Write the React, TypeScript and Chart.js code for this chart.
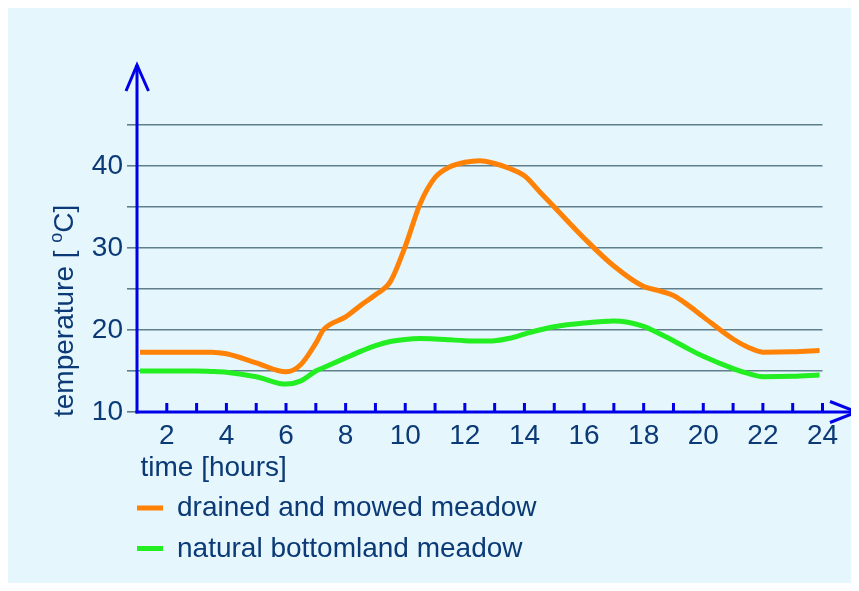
import React, { useEffect, useRef } from 'react';
import { Chart, registerables } from 'chart.js';

Chart.register(...registerables);

// ---- data ----
const hours = [1.1, 2, 3, 3.5, 4, 5, 6, 6.5, 7, 7.25, 8, 8.5, 9, 9.5, 10, 10.5, 11, 11.5, 12, 12.5, 13, 13.5, 14, 14.5, 15, 16, 17, 18, 18.5, 19, 19.5, 20, 21, 21.5, 22, 23, 23.9];
const drainedMeadow = [17.3, 17.3, 17.3, 17.3, 17.1, 16.0, 14.9, 15.8, 18.4, 20.0, 21.6, 23.0, 24.3, 25.9, 30.2, 35.4, 38.6, 39.9, 40.45, 40.65, 40.3, 39.7, 38.8, 36.9, 35.0, 31.2, 27.8, 25.3, 24.8, 24.2, 23.0, 21.6, 18.9, 17.9, 17.3, 17.35, 17.5];
const bottomlandMeadow = [15.0, 15.0, 15.0, 14.95, 14.85, 14.3, 13.4, 13.8, 15.0, 15.4, 16.6, 17.4, 18.1, 18.6, 18.85, 18.95, 18.9, 18.8, 18.7, 18.65, 18.7, 19.0, 19.5, 20.0, 20.4, 20.85, 21.1, 20.45, 19.6, 18.7, 17.7, 16.8, 15.3, 14.7, 14.3, 14.35, 14.5];
const seriesLabels = ['drained and mowed meadow', 'natural bottomland meadow'];
const seriesColors = ['#ff8206', '#22ee22'];
const xTickHours = [2, 3, 4, 5, 6, 7, 8, 9, 10, 11, 12, 13, 14, 15, 16, 17, 18, 19, 20, 21, 22, 23, 24];
const xTitle = 'time [hours]';
const yTitleParts = ['temperature [ ', 'o', 'C]'];

const FONT = "'Liberation Sans', Arial, Helvetica, sans-serif";
const TEXT = '#0b3a76';
const AXIS = '#0000e8';
const GRID = '#5f7f8c';
const FS = 28;

const decor = {
  id: 'decor',
  afterDraw(chart: any) {
    const ctx = chart.ctx as CanvasRenderingContext2D;
    const xs = chart.scales.x;
    const ys = chart.scales.y;
    const x0 = xs.getPixelForValue(1);
    const y0 = ys.getPixelForValue(10);
    ctx.save();
    ctx.strokeStyle = AXIS;
    ctx.lineWidth = 3;
    ctx.lineCap = 'butt';
    ctx.lineJoin = 'miter';
    // hour ticks (inside, upward)
    ctx.beginPath();
    for (const h of xTickHours) {
      const px = xs.getPixelForValue(h);
      ctx.moveTo(px, y0);
      ctx.lineTo(px, y0 - 9);
    }
    ctx.stroke();
    // x axis with arrow
    const xTip = xs.right + 34.5;
    ctx.beginPath();
    ctx.moveTo(x0 - 1.5, y0);
    ctx.lineTo(xTip, y0);
    ctx.stroke();
    ctx.beginPath();
    ctx.moveTo(xTip - 27, y0 - 10.5);
    ctx.lineTo(xTip, y0);
    ctx.lineTo(xTip - 27, y0 + 10.5);
    ctx.stroke();
    // y axis with arrow
    const yTip = ys.top - 60;
    ctx.beginPath();
    ctx.moveTo(x0, y0 + 1.5);
    ctx.lineTo(x0, yTip);
    ctx.stroke();
    ctx.beginPath();
    ctx.moveTo(x0 - 11, yTip + 26);
    ctx.lineTo(x0, yTip);
    ctx.lineTo(x0 + 11.5, yTip + 26);
    ctx.stroke();

    // x title
    ctx.fillStyle = TEXT;
    ctx.font = `${FS}px ${FONT}`;
    ctx.textBaseline = 'alphabetic';
    ctx.textAlign = 'left';
    ctx.fillText(xTitle, x0 + 3.5, y0 + 64);

    // y title (rotated)
    ctx.save();
    ctx.translate(64.5, y0 + 5);
    ctx.rotate(-Math.PI / 2);
    let cx = 0;
    ctx.font = `${FS}px ${FONT}`;
    ctx.fillText(yTitleParts[0], cx, 0);
    cx += ctx.measureText(yTitleParts[0]).width;
    ctx.font = `${Math.round(FS * 0.65)}px ${FONT}`;
    ctx.fillText(yTitleParts[1], cx, -FS * 0.38);
    cx += ctx.measureText(yTitleParts[1]).width;
    ctx.font = `${FS}px ${FONT}`;
    ctx.fillText(yTitleParts[2], cx, 0);
    ctx.restore();

    // legend
    const rows = [y0 + 104, y0 + 144.5];
    chart.data.datasets.forEach((ds: any, i: number) => {
      const by = rows[i];
      ctx.strokeStyle = ds.borderColor;
      ctx.lineWidth = 5;
      ctx.beginPath();
      ctx.moveTo(x0, by - 8);
      ctx.lineTo(x0 + 26, by - 8);
      ctx.stroke();
      ctx.fillStyle = TEXT;
      ctx.font = `${FS}px ${FONT}`;
      ctx.fillText(ds.label, x0 + 40, by);
    });
    ctx.restore();
  },
};

export default function App() {
  const ref = useRef<HTMLCanvasElement | null>(null);
  useEffect(() => {
    if (!ref.current) return;
    const mk = (vals: number[]) => hours.map((h, i) => ({ x: h, y: vals[i] }));
    const chart = new Chart(ref.current, {
      type: 'line',
      data: {
        datasets: [
          {
            label: seriesLabels[0],
            data: mk(drainedMeadow),
            borderColor: seriesColors[0],
            borderWidth: 5,
            pointRadius: 0,
            cubicInterpolationMode: 'monotone',
            fill: false,
          },
          {
            label: seriesLabels[1],
            data: mk(bottomlandMeadow),
            borderColor: seriesColors[1],
            borderWidth: 5,
            pointRadius: 0,
            cubicInterpolationMode: 'monotone',
            fill: false,
          },
        ],
      },
      options: {
        responsive: false,
        animation: false,
        layout: { padding: { left: 0, right: 36.5, top: 117, bottom: 0 } },
        plugins: { legend: { display: false }, tooltip: { enabled: false } },
        scales: {
          x: {
            type: 'linear',
            min: 1,
            max: 24,
            grid: { display: false, drawTicks: false },
            border: { display: false },
            ticks: {
              stepSize: 1,
              autoSkip: false,
              maxRotation: 0,
              padding: 7,
              color: TEXT,
              font: { family: FONT, size: FS },
              callback: (v: any) => (Number(v) % 2 === 0 ? String(v) : ''),
            },
            afterFit: (s: any) => {
              s.height = 179;
            },
          },
          y: {
            min: 10,
            max: 45,
            grid: { color: GRID, lineWidth: 1.6, tickLength: 10, tickColor: GRID },
            border: { display: false },
            ticks: {
              stepSize: 5,
              padding: 4,
              color: TEXT,
              font: { family: FONT, size: FS },
              callback: (v: any) => (Number(v) % 10 === 0 ? String(v) : ''),
            },
            afterFit: (s: any) => {
              s.width = 129;
            },
          },
        },
      },
      plugins: [decor],
    });
    return () => chart.destroy();
  }, []);
  return (
    <div style={{ width: 851, height: 583, marginBottom: -8, marginRight: -8 }}>
      <canvas
        ref={ref}
        width={851}
        height={583}
        style={{ display: 'block', width: 851, height: 583, background: '#e5f6fc' }}
      />
    </div>
  );
}
